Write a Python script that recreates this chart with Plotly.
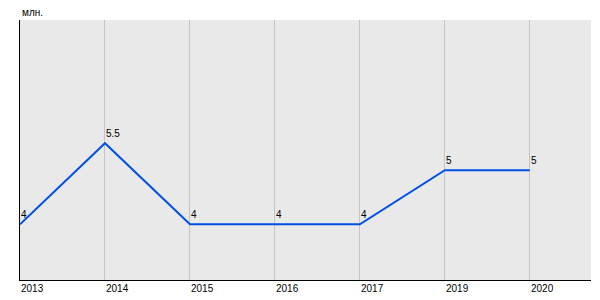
import plotly.graph_objects as go

years = ["2013", "2014", "2015", "2016", "2017", "2019", "2020"]
values = [4, 5.5, 4, 4, 4, 5, 5]
labels = ["4", "5.5", "4", "4", "4", "5", "5"]
unit = "млн."

FONT = "Liberation Sans, Arial, sans-serif"

fig = go.Figure()
fig.add_trace(go.Scatter(
    x=years, y=values, mode="lines",
    line=dict(color="#0050e6", width=2),
    hoverinfo="skip", showlegend=False,
))

annotations = []
for i, (yr, v, t) in enumerate(zip(years, values, labels)):
    annotations.append(dict(
        x=i, y=v, xref="x", yref="y", text=t, showarrow=False,
        xanchor="left", yanchor="bottom", xshift=-1, yshift=2,
        font=dict(family=FONT, size=10, color="#000"),
    ))
    annotations.append(dict(
        x=i, y=0, xref="x", yref="paper", text=yr, showarrow=False,
        xanchor="left", yanchor="top", xshift=-1, yshift=-1,
        font=dict(family=FONT, size=10, color="#000"),
    ))
annotations.append(dict(
    x=0, y=1, xref="paper", yref="paper", text=unit, showarrow=False,
    xanchor="left", yanchor="bottom", yshift=0,
    font=dict(family=FONT, size=10, color="#000"),
))

fig.update_layout(
    width=600, height=300,
    margin=dict(l=20, r=9, t=20, b=20),
    paper_bgcolor="white", plot_bgcolor="#e9e9e9",
    annotations=annotations,
    xaxis=dict(
        type="category", range=[0, 6.72],
        showgrid=True, gridcolor="#c4c4c4", gridwidth=1,
        showticklabels=False, ticks="",
        showline=True, linecolor="black", linewidth=1,
        zeroline=False,
    ),
    yaxis=dict(
        range=[2.97, 7.78], showgrid=False, showticklabels=False, ticks="",
        showline=True, linecolor="black", linewidth=1, zeroline=False,
    ),
)

fig.write_html("out.html")
